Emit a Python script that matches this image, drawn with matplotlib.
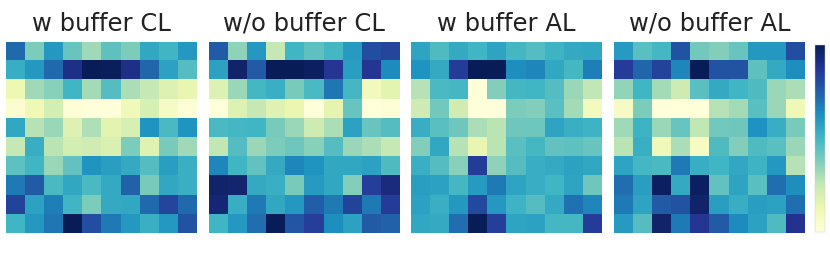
import numpy as np
import matplotlib
matplotlib.use('Agg')
import matplotlib.pyplot as plt

# panel titles, left to right
titles = ['w buffer CL', 'w/o buffer CL', 'w buffer AL', 'w/o buffer AL']

# 10x10 attention-like maps (0 = light, 1 = dark)
w_buffer_cl = [
    [0.72, 0.38, 0.60, 0.42, 0.32, 0.44, 0.38, 0.55, 0.50, 0.60],
    [0.53, 0.60, 0.72, 0.90, 1.00, 0.99, 0.90, 0.73, 0.57, 0.46],
    [0.12, 0.32, 0.36, 0.50, 0.31, 0.46, 0.30, 0.25, 0.18, 0.14],
    [0.03, 0.11, 0.21, 0.01, 0.00, 0.00, 0.10, 0.20, 0.06, 0.01],
    [0.55, 0.28, 0.33, 0.18, 0.29, 0.16, 0.20, 0.61, 0.48, 0.61],
    [0.25, 0.53, 0.27, 0.21, 0.22, 0.19, 0.38, 0.17, 0.39, 0.32],
    [0.44, 0.50, 0.33, 0.43, 0.61, 0.58, 0.54, 0.46, 0.58, 0.52],
    [0.68, 0.76, 0.48, 0.55, 0.48, 0.54, 0.74, 0.39, 0.55, 0.52],
    [0.83, 0.57, 0.67, 0.50, 0.38, 0.54, 0.55, 0.72, 0.82, 0.72],
    [0.50, 0.60, 0.69, 1.00, 0.80, 0.68, 0.60, 0.52, 0.60, 0.78],
]

wo_buffer_cl = [
    [0.76, 0.35, 0.60, 0.25, 0.50, 0.44, 0.49, 0.59, 0.80, 0.82],
    [0.57, 0.96, 0.76, 1.00, 1.00, 0.98, 0.87, 0.58, 0.87, 0.64],
    [0.18, 0.33, 0.49, 0.52, 0.39, 0.48, 0.69, 0.49, 0.09, 0.16],
    [0.00, 0.18, 0.25, 0.17, 0.13, 0.00, 0.15, 0.42, 0.00, 0.01],
    [0.48, 0.49, 0.50, 0.39, 0.33, 0.23, 0.30, 0.57, 0.42, 0.46],
    [0.26, 0.46, 0.33, 0.38, 0.41, 0.36, 0.46, 0.33, 0.30, 0.25],
    [0.65, 0.50, 0.43, 0.54, 0.65, 0.61, 0.55, 0.55, 0.57, 0.47],
    [0.96, 0.95, 0.54, 0.52, 0.39, 0.59, 0.55, 0.37, 0.84, 0.92],
    [0.94, 0.53, 0.68, 0.55, 0.60, 0.75, 0.68, 0.83, 0.68, 0.85],
    [0.50, 0.60, 0.71, 1.00, 0.77, 0.84, 0.63, 0.57, 0.76, 0.74],
]

w_buffer_al = [
    [0.56, 0.47, 0.54, 0.50, 0.56, 0.49, 0.46, 0.51, 0.54, 0.55],
    [0.61, 0.54, 0.85, 1.00, 1.00, 0.63, 0.65, 0.55, 0.49, 0.67],
    [0.28, 0.48, 0.49, 0.00, 0.37, 0.49, 0.50, 0.46, 0.33, 0.26],
    [0.23, 0.40, 0.22, 0.00, 0.00, 0.38, 0.37, 0.45, 0.31, 0.08],
    [0.53, 0.45, 0.41, 0.30, 0.27, 0.41, 0.41, 0.56, 0.52, 0.51],
    [0.37, 0.55, 0.28, 0.14, 0.27, 0.45, 0.49, 0.43, 0.44, 0.42],
    [0.52, 0.46, 0.36, 0.85, 0.35, 0.46, 0.53, 0.54, 0.57, 0.55],
    [0.58, 0.57, 0.49, 0.59, 0.68, 0.56, 0.53, 0.50, 0.56, 0.41],
    [0.57, 0.52, 0.60, 0.81, 0.60, 0.51, 0.46, 0.54, 0.70, 0.65],
    [0.55, 0.54, 0.71, 1.00, 0.84, 0.56, 0.57, 0.49, 0.49, 0.85],
]

wo_buffer_al = [
    [0.59, 0.45, 0.49, 0.78, 0.40, 0.37, 0.42, 0.60, 0.60, 0.80],
    [0.85, 0.73, 0.83, 0.65, 1.00, 0.78, 0.78, 0.44, 0.54, 0.63],
    [0.34, 0.50, 0.31, 0.23, 0.45, 0.54, 0.50, 0.47, 0.33, 0.30],
    [0.06, 0.38, 0.00, 0.00, 0.00, 0.28, 0.31, 0.45, 0.33, 0.11],
    [0.32, 0.51, 0.33, 0.42, 0.26, 0.40, 0.41, 0.62, 0.53, 0.39],
    [0.27, 0.52, 0.10, 0.30, 0.07, 0.47, 0.37, 0.47, 0.45, 0.33],
    [0.56, 0.49, 0.48, 0.68, 0.53, 0.50, 0.55, 0.51, 0.60, 0.28],
    [0.71, 0.58, 0.98, 0.54, 0.98, 0.43, 0.56, 0.45, 0.71, 0.63],
    [0.68, 0.56, 0.76, 0.78, 0.96, 0.58, 0.53, 0.58, 0.57, 0.71],
    [0.59, 0.46, 0.96, 0.68, 0.87, 0.76, 0.64, 0.57, 0.47, 0.88],
]

maps = [w_buffer_cl, wo_buffer_cl, w_buffer_al, wo_buffer_al]

fig = plt.figure(figsize=(8.3, 2.77), dpi=100)

# axes boxes in figure fractions
lefts = [0.0069, 0.2514, 0.4952, 0.7398]
bottom, width, height = 0.159, 0.230, 0.690

im = None
for left, title, data in zip(lefts, titles, maps):
    ax = fig.add_axes([left, bottom, width, height])
    im = ax.imshow(np.array(data), cmap='YlGnBu', vmin=0, vmax=1,
                   aspect='auto', interpolation='nearest')
    ax.set_xticks([])
    ax.set_yticks([])
    for s in ax.spines.values():
        s.set_visible(False)
    ax.set_title(title, fontsize=17.5, pad=8, color='#222222')

cax = fig.add_axes([0.9823, 0.1635, 0.0113, 0.674])
cb = fig.colorbar(im, cax=cax)
cb.set_ticks([])
cb.outline.set_linewidth(0.3)
cb.outline.set_edgecolor('#cccccc')

fig.savefig('out.png', dpi=100)
